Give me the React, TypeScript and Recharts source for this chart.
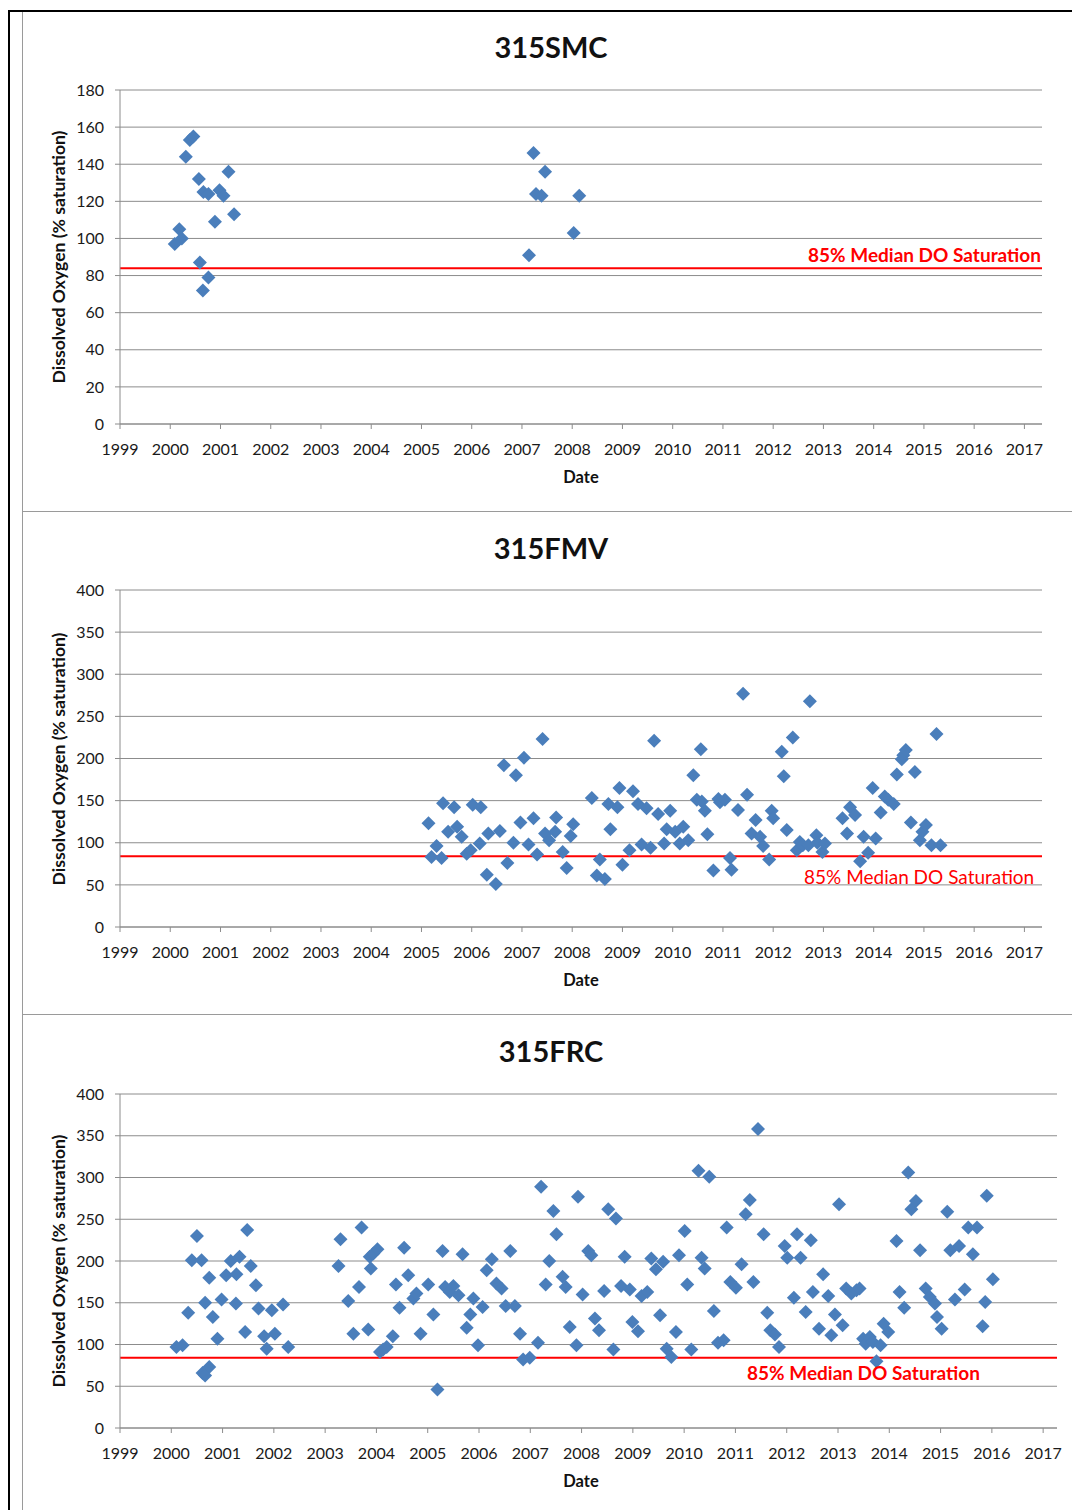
import React from 'react';
import { ScatterChart, Scatter, XAxis, YAxis, CartesianGrid, ReferenceLine } from 'recharts';

const yearTicks = [1999, 2000, 2001, 2002, 2003, 2004, 2005, 2006, 2007, 2008, 2009, 2010, 2011, 2012, 2013, 2014, 2015, 2016, 2017];
const smcTicks = [0, 20, 40, 60, 80, 100, 120, 140, 160, 180];
const fTicks = [0, 50, 100, 150, 200, 250, 300, 350, 400];
const medianDO = 84;

const smcDates = [2000.09, 2000.18, 2000.23, 2000.31, 2000.39, 2000.46, 2000.57, 2000.59, 2000.65, 2000.66, 2000.76, 2000.76, 2000.89, 2000.98, 2001.06, 2001.16, 2001.27, 2007.14, 2007.23, 2007.28, 2007.39, 2007.46, 2008.03, 2008.14];
const smcValues = [97, 105, 100, 144, 153, 155, 132, 87, 72, 125, 124, 79, 109, 126, 123, 136, 113, 91, 146, 124, 123, 136, 103, 123];

const fmvDates = [2005.14, 2005.2, 2005.3, 2005.4, 2005.43, 2005.53, 2005.65, 2005.71, 2005.8, 2005.9, 2005.98, 2006.02, 2006.16, 2006.18, 2006.3, 2006.33, 2006.48, 2006.56, 2006.64, 2006.71, 2006.83, 2006.88, 2006.97, 2007.04, 2007.13, 2007.23, 2007.3, 2007.41, 2007.46, 2007.54, 2007.66, 2007.68, 2007.81, 2007.89, 2007.97, 2008.02, 2008.39, 2008.49, 2008.55, 2008.65, 2008.72, 2008.76, 2008.9, 2008.94, 2009.0, 2009.14, 2009.21, 2009.31, 2009.38, 2009.48, 2009.56, 2009.63, 2009.71, 2009.83, 2009.88, 2009.95, 2010.05, 2010.14, 2010.21, 2010.31, 2010.41, 2010.48, 2010.56, 2010.58, 2010.64, 2010.69, 2010.81, 2010.91, 2010.94, 2011.04, 2011.14, 2011.17, 2011.3, 2011.4, 2011.48, 2011.57, 2011.65, 2011.74, 2011.8, 2011.92, 2011.97, 2012.0, 2012.17, 2012.21, 2012.27, 2012.39, 2012.47, 2012.53, 2012.59, 2012.7, 2012.73, 2012.86, 2012.88, 2012.98, 2013.03, 2013.38, 2013.47, 2013.53, 2013.63, 2013.73, 2013.8, 2013.89, 2013.98, 2014.04, 2014.14, 2014.22, 2014.29, 2014.4, 2014.46, 2014.56, 2014.59, 2014.64, 2014.74, 2014.82, 2014.92, 2014.97, 2015.04, 2015.15, 2015.25, 2015.33];
const fmvValues = [123, 83, 96, 82, 147, 113, 142, 119, 107, 87, 91, 145, 99, 142, 62, 111, 51, 114, 192, 76, 100, 180, 124, 201, 98, 129, 86, 223, 111, 103, 113, 130, 89, 70, 108, 122, 153, 61, 80, 57, 146, 116, 142, 165, 74, 91, 161, 146, 98, 141, 94, 221, 134, 99, 116, 138, 113, 99, 119, 103, 180, 151, 211, 149, 138, 110, 67, 152, 148, 151, 82, 68, 139, 277, 157, 111, 127, 107, 96, 80, 138, 129, 208, 179, 115, 225, 91, 101, 97, 97, 268, 109, 100, 89, 99, 129, 111, 142, 133, 78, 107, 88, 165, 105, 136, 155, 151, 146, 181, 199, 204, 210, 124, 184, 103, 113, 121, 97, 229, 97];

const frcDates = [2000.1, 2000.22, 2000.33, 2000.4, 2000.5, 2000.59, 2000.61, 2000.66, 2000.66, 2000.74, 2000.74, 2000.81, 2000.9, 2000.98, 2001.07, 2001.16, 2001.26, 2001.27, 2001.33, 2001.44, 2001.48, 2001.55, 2001.65, 2001.7, 2001.81, 2001.86, 2001.96, 2002.02, 2002.18, 2002.28, 2003.26, 2003.3, 2003.45, 2003.55, 2003.66, 2003.71, 2003.84, 2003.87, 2003.89, 2003.94, 2004.02, 2004.07, 2004.13, 2004.2, 2004.32, 2004.38, 2004.45, 2004.54, 2004.62, 2004.72, 2004.78, 2004.86, 2005.01, 2005.11, 2005.19, 2005.29, 2005.34, 2005.43, 2005.5, 2005.6, 2005.68, 2005.76, 2005.83, 2005.89, 2005.98, 2006.07, 2006.15, 2006.25, 2006.34, 2006.44, 2006.52, 2006.61, 2006.7, 2006.8, 2006.86, 2006.99, 2007.15, 2007.21, 2007.3, 2007.37, 2007.45, 2007.51, 2007.63, 2007.69, 2007.77, 2007.9, 2007.93, 2008.02, 2008.13, 2008.19, 2008.26, 2008.34, 2008.44, 2008.52, 2008.62, 2008.67, 2008.77, 2008.84, 2008.94, 2008.99, 2009.1, 2009.17, 2009.28, 2009.36, 2009.45, 2009.53, 2009.59, 2009.66, 2009.75, 2009.84, 2009.9, 2010.01, 2010.06, 2010.14, 2010.28, 2010.34, 2010.4, 2010.49, 2010.58, 2010.66, 2010.77, 2010.83, 2010.9, 2011.01, 2011.12, 2011.2, 2011.28, 2011.35, 2011.44, 2011.55, 2011.62, 2011.68, 2011.77, 2011.85, 2011.96, 2012.01, 2012.14, 2012.2, 2012.27, 2012.37, 2012.47, 2012.51, 2012.63, 2012.71, 2012.81, 2012.87, 2012.94, 2013.02, 2013.09, 2013.16, 2013.26, 2013.36, 2013.42, 2013.49, 2013.54, 2013.62, 2013.68, 2013.75, 2013.83, 2013.89, 2013.98, 2014.14, 2014.2, 2014.29, 2014.37, 2014.43, 2014.52, 2014.6, 2014.71, 2014.79, 2014.89, 2014.93, 2015.02, 2015.13, 2015.19, 2015.28, 2015.36, 2015.47, 2015.54, 2015.63, 2015.71, 2015.82, 2015.87, 2015.9, 2016.02];
const frcValues = [97, 99, 138, 201, 230, 201, 66, 63, 150, 73, 180, 133, 107, 154, 183, 200, 149, 184, 205, 115, 237, 194, 171, 143, 110, 95, 141, 113, 148, 97, 194, 226, 152, 113, 169, 240, 118, 205, 191, 209, 214, 91, 94, 97, 110, 172, 144, 216, 183, 155, 161, 113, 172, 136, 46, 212, 169, 163, 170, 159, 208, 120, 136, 155, 99, 145, 189, 202, 173, 167, 146, 212, 146, 113, 82, 84, 102, 289, 172, 200, 260, 232, 181, 169, 121, 99, 277, 160, 212, 207, 131, 117, 164, 262, 94, 251, 170, 205, 166, 127, 116, 158, 163, 203, 190, 135, 199, 95, 85, 115, 207, 236, 172, 94, 308, 204, 191, 301, 140, 102, 105, 240, 175, 168, 196, 256, 273, 175, 358, 232, 138, 117, 112, 97, 218, 204, 156, 232, 204, 139, 225, 163, 119, 184, 158, 111, 136, 268, 123, 167, 161, 165, 167, 107, 101, 109, 103, 80, 99, 125, 115, 224, 163, 144, 306, 262, 272, 213, 167, 157, 149, 133, 119, 259, 213, 154, 218, 166, 240, 208, 240, 122, 151, 278, 178];

const FONT = 'Lato, "Open Sans", sans-serif';
const BLUE = '#4a7ebb';
const GRID = '#8c8c8c';

const Diamond = (props: any) => {
  const { cx, cy } = props;
  if (cx == null || cy == null) return null;
  const r = 7;
  return <polygon points={`${cx},${cy - r} ${cx + r},${cy} ${cx},${cy + r} ${cx - r},${cy}`} fill={BLUE} />;
};

type PanelProps = {
  title: string;
  dates: number[];
  values: number[];
  yTicks: number[];
  xMax: number;
  top: number;
  height: number;
  plotTop: number;
  plotBottom: number;
  plotRight: number;
  labelY: number;
  labelX: number;
  labelBold: boolean;
};

const Panel = (p: PanelProps) => {
  const data = p.dates.map((d, i) => ({ x: d, y: p.values[i] }));
  const left = 22;
  const width = 1080 - left;
  const yAxisW = 60;
  const xAxisH = 30;
  const mTop = p.plotTop - p.top;
  const mBottom = p.height - (p.plotBottom - p.top) - xAxisH;
  const mRight = width - (p.plotRight - left);
  const mLeft = 120 - left - yAxisW;
  const yMax = p.yTicks[p.yTicks.length - 1];
  const plotCenterY = (p.plotTop + p.plotBottom) / 2;
  return (
    <>
      <div style={{ position: 'absolute', left: left - 8, top: p.top - 8, width, height: p.height }}>
        <ScatterChart width={width} height={p.height} margin={{ top: mTop, right: mRight, bottom: mBottom, left: mLeft }}>
          <CartesianGrid horizontal={true} vertical={false} stroke={GRID} strokeWidth={1} />
          <XAxis
            type="number"
            dataKey="x"
            domain={[1999, p.xMax]}
            ticks={yearTicks}
            interval={0}
            allowDataOverflow
            height={xAxisH}
            stroke={GRID}
            tickSize={5}
            tickMargin={15}
            tick={{ fill: '#1a1a1a', fontSize: 16, fontFamily: FONT }}
          />
          <YAxis
            type="number"
            dataKey="y"
            domain={[0, yMax]}
            ticks={p.yTicks}
            interval={0}
            allowDataOverflow
            width={yAxisW}
            stroke={GRID}
            tickSize={5}
            tickMargin={11}
            tick={{ fill: '#1a1a1a', fontSize: 16, fontFamily: FONT }}
          />
          <ReferenceLine y={medianDO} stroke="#ff0000" strokeWidth={2} />
          <Scatter data={data} shape={Diamond} isAnimationActive={false} />
        </ScatterChart>
      </div>
      <div style={{ position: 'absolute', left: 551 - 8, top: p.top + 35 - 8, transform: 'translate(-50%,-50%)', fontSize: 29, fontWeight: 700, whiteSpace: 'nowrap', color: '#111' }}>
        {p.title}
      </div>
      <div style={{ position: 'absolute', left: 58 - 8, top: plotCenterY - 8, transform: 'translate(-50%,-50%) rotate(-90deg)', fontSize: 17.6, fontWeight: 700, whiteSpace: 'nowrap', color: '#111' }}>
        Dissolved Oxygen (% saturation)
      </div>
      <div style={{ position: 'absolute', left: 581 - 8, top: p.plotBottom + 53 - 8, transform: 'translate(-50%,-50%)', fontSize: 16.5, fontWeight: 700, whiteSpace: 'nowrap', color: '#111' }}>
        Date
      </div>
      <div style={{ position: 'absolute', left: p.labelX - 8, top: p.labelY - 8, transform: 'translate(0,-50%)', fontSize: 19, fontWeight: p.labelBold ? 700 : 400, whiteSpace: 'nowrap', color: '#ff0000' }}>
        85% Median DO Saturation
      </div>
    </>
  );
};

export default function App() {
  return (
    <div style={{ position: 'relative', width: 1072, height: 1502, fontFamily: FONT, background: '#fff', overflow: 'hidden' }}>
      <div style={{ position: 'absolute', left: 0, top: 2, width: 1072, height: 2, background: '#000' }} />
      <div style={{ position: 'absolute', left: 0, top: 2, width: 2, height: 1500, background: '#000' }} />
      <div style={{ position: 'absolute', left: 14, top: 4, width: 1, height: 1498, background: '#9a9a9a' }} />
      <div style={{ position: 'absolute', left: 14, top: 503, width: 1058, height: 1, background: '#9a9a9a' }} />
      <div style={{ position: 'absolute', left: 14, top: 1006, width: 1058, height: 1, background: '#9a9a9a' }} />
      <Panel title="315SMC" dates={smcDates} values={smcValues} yTicks={smcTicks} xMax={2017.35}
        top={11} height={500} plotTop={90} plotBottom={424} plotRight={1042}
        labelX={808} labelY={254} labelBold={true} />
      <Panel title="315FMV" dates={fmvDates} values={fmvValues} yTicks={fTicks} xMax={2017.35}
        top={512} height={502} plotTop={590} plotBottom={927} plotRight={1042}
        labelX={804} labelY={876} labelBold={false} />
      <Panel title="315FRC" dates={frcDates} values={frcValues} yTicks={fTicks} xMax={2017.27}
        top={1015} height={495} plotTop={1094} plotBottom={1428} plotRight={1057}
        labelX={747} labelY={1372} labelBold={true} />
    </div>
  );
}
